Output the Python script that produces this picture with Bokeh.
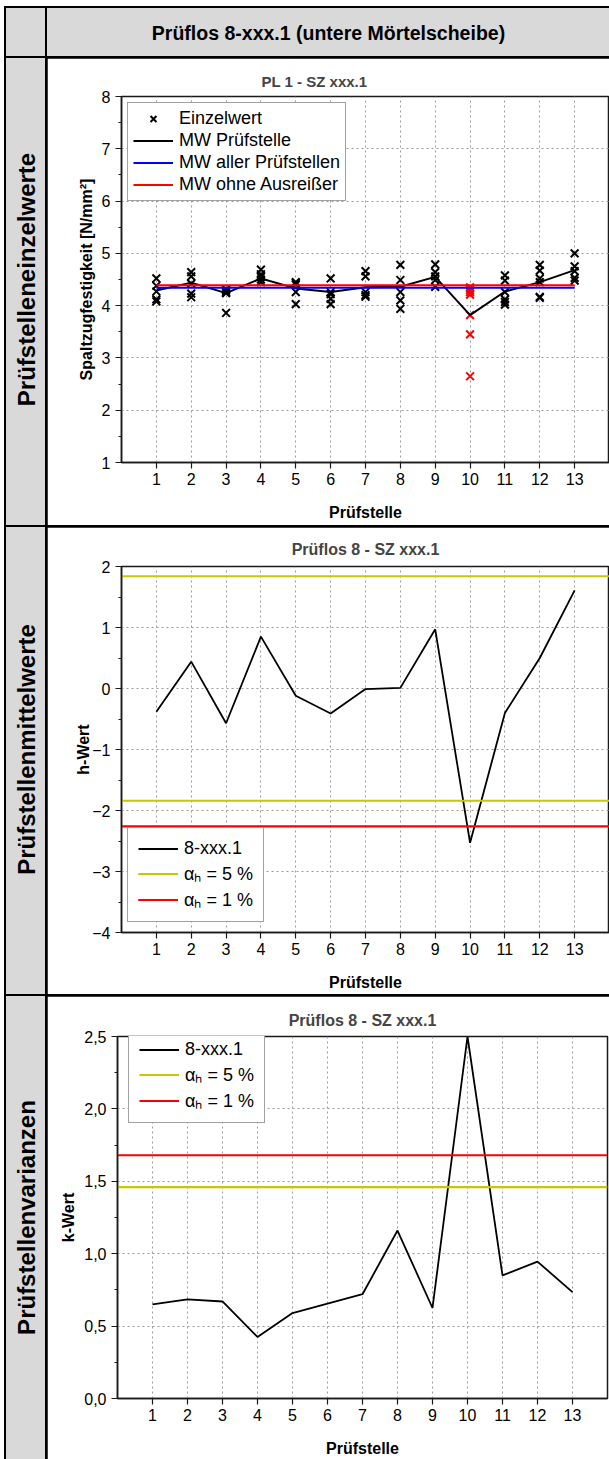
import math

from bokeh.embed import file_html
from bokeh.layouts import column, row
from bokeh.models import (ColumnDataSource, CustomJSTickFormatter, FixedTicker, Label,
                          Legend, LegendItem, Range1d)
from bokeh.plotting import figure
from bokeh.resources import INLINE

# ---------------------------------------------------------------- data
pruefstellen = list(range(1, 14))

# Einzelwerte der Spaltzugfestigkeit je Prüfstelle [N/mm²]
einzelwerte = [
    [4.52, 4.38, 4.27, 4.12, 4.08],
    [4.64, 4.56, 4.42, 4.23, 4.16],
    [4.31, 4.29, 4.26, 4.24, 3.86],
    [4.69, 4.60, 4.55, 4.50, 4.45],
    [4.45, 4.43, 4.40, 4.26, 4.03],
    [4.52, 4.26, 4.22, 4.13, 4.03],
    [4.66, 4.56, 4.26, 4.20, 4.17],
    [4.78, 4.49, 4.26, 4.10, 3.94],
    [4.79, 4.64, 4.56, 4.49, 4.36],
    [4.35, 4.30, 4.26, 4.21, 3.82, 3.45, 2.65],
    [4.58, 4.48, 4.26, 4.12, 4.07, 4.02],
    [4.78, 4.67, 4.52, 4.45, 4.17, 4.15],
    [5.00, 4.75, 4.66, 4.53, 4.48],
]
ausreisser_pruefstellen = [10]

mw_pruefstelle = [4.29, 4.44, 4.24, 4.52, 4.33, 4.26, 4.35, 4.36, 4.55, 3.82, 4.27, 4.45, 4.68]
mw_alle = 4.34
mw_ohne_ausreisser = 4.39

# Mandel-Statistiken
h_werte = [-0.38, 0.44, -0.57, 0.85, -0.12, -0.41, -0.01, 0.01, 0.97, -2.53, -0.40, 0.50, 1.61]
h_krit_5 = 1.84
h_krit_1 = 2.26

k_werte = [0.65, 0.685, 0.67, 0.425, 0.59, 0.655, 0.72, 1.16, 0.625, 2.50, 0.85, 0.945, 0.735]
k_krit_5 = 1.46
k_krit_1 = 1.68

# axis ticks
x_range_sz = (0, 14)
y_ticks_sz = [1, 2, 3, 4, 5, 6, 7, 8]
y_ticks_h = [-4, -3, -2, -1, 0, 1, 2]
y_ticks_k = [0.0, 0.5, 1.0, 1.5, 2.0, 2.5]

# ---------------------------------------------------------------- styling
FONT = "Liberation Sans"
CELL_GRAY = "#d9d9d9"
YELLOW = "#c8c800"
RED = "#ff0000"
BLUE = "#0000ff"
GRID = "#9a9a9a"

LEFT_W = 39
MAIN_W = 562
HEAD_H = 48
ROW_H = [467, 467, 463]


def minor_between(ticks):
    return [(a + b) / 2 for a, b in zip(ticks[:-1], ticks[1:])]


def cell(width, height, text, angle=0.0, size="18px"):
    c = figure(width=width, height=height, x_range=Range1d(0, 1), y_range=Range1d(0, 1),
               x_axis_location=None, y_axis_location=None,
               toolbar_location=None, output_backend="svg", min_border=0,
               background_fill_color=CELL_GRAY, border_fill_color=CELL_GRAY,
               outline_line_color=None, styles={"background-color": CELL_GRAY})
    c.grid.visible = False
    if text:
        c.add_layout(Label(x=0.5, y=0.5, text=text, angle=angle, angle_units="rad",
                           text_align="center", text_baseline="middle", text_font=FONT,
                           text_font_style="bold", text_font_size=size, text_color="black"))
    return c


def chart(title, height, y_rng, y_ticks, minor, left, top, bottom, right, ylabel,
          title_size="16px", title_standoff=12, ylabel_standoff=4):
    p = figure(width=MAIN_W, height=height,
               x_range=Range1d(*x_range_sz), y_range=Range1d(*y_rng),
               toolbar_location=None, output_backend="svg",
               min_border_left=left, min_border_right=right,
               min_border_top=top, min_border_bottom=bottom,
               background_fill_color="white", border_fill_color="white",
               outline_line_color="#1a1a1a", outline_line_width=1.5)
    p.title.text = title
    p.title.text_font = FONT
    p.title.text_font_size = title_size
    p.title.text_font_style = "bold"
    p.title.align = "center"
    p.title.standoff = title_standoff

    p.xaxis.ticker = FixedTicker(ticks=pruefstellen, minor_ticks=[])
    p.yaxis.ticker = FixedTicker(ticks=y_ticks, minor_ticks=minor)
    p.xaxis.axis_label = "Prüfstelle"
    p.yaxis.axis_label = ylabel
    for ax in (p.xaxis[0], p.yaxis[0]):
        ax.axis_line_color = "#1a1a1a"
        ax.axis_line_width = 1.5
        ax.major_tick_line_color = "#1a1a1a"
        ax.major_tick_line_width = 1.2
        ax.minor_tick_line_color = "#1a1a1a"
        ax.minor_tick_line_width = 1.2
        ax.major_tick_out = 6
        ax.major_tick_in = 0
        ax.minor_tick_out = 3
        ax.minor_tick_in = 0
        ax.major_label_text_font = FONT
        ax.major_label_text_font_size = "16px"
        ax.major_label_text_color = "black"
        ax.axis_label_text_font = FONT
        ax.axis_label_text_font_size = "16px"
        ax.axis_label_text_font_style = "bold"
        ax.axis_label_text_color = "black"
    p.xaxis.major_label_standoff = 4
    p.xaxis.axis_label_standoff = 16
    p.yaxis.major_label_standoff = 5
    p.yaxis.axis_label_standoff = ylabel_standoff

    for g in (p.xgrid[0], p.ygrid[0]):
        g.grid_line_color = GRID
        g.grid_line_dash = "2 3"
        g.grid_line_width = 1
    return p


def legend(p, items, location, padding, spacing):
    lg = Legend(items=items, location=location, padding=padding, spacing=spacing,
                margin=6, glyph_width=40, glyph_height=21, label_height=21,
                label_standoff=6, label_text_font=FONT, label_text_font_size="18px",
                label_text_color="black", border_line_color="#444444",
                border_line_width=1.2, background_fill_color="white",
                background_fill_alpha=1.0)
    p.add_layout(lg)
    return lg


# ---------------------------------------------------------------- chart 1: single values
xs, ys, cols = [], [], []
for stelle, werte in zip(pruefstellen, einzelwerte):
    for w in werte:
        xs.append(stelle)
        ys.append(w)
        cols.append(RED if stelle in ausreisser_pruefstellen else "black")
src_ew = ColumnDataSource(dict(x=xs, y=ys, color=cols))

p1 = chart("PL 1 - SZ xxx.1", ROW_H[0], (1, 8), y_ticks_sz, minor_between(y_ticks_sz),
           left=74, top=38, bottom=63, right=0, ylabel="Spaltzugfestigkeit [N/mm²]",
           title_size="15px", title_standoff=13)
p1.title.align = "left"
p1.title.offset = 140

r_ew = p1.scatter("x", "y", source=src_ew, marker="x", size=11, line_width=2, color="color")
r_mw = p1.line(pruefstellen, mw_pruefstelle, line_color="black", line_width=2)
r_all = p1.line(pruefstellen, [mw_alle] * len(pruefstellen), line_color=BLUE, line_width=2)
r_ohne = p1.line(pruefstellen, [mw_ohne_ausreisser] * len(pruefstellen), line_color=RED,
                 line_width=2)
legend(p1, [LegendItem(label="Einzelwert", renderers=[r_ew], index=0),
            LegendItem(label="MW Prüfstelle", renderers=[r_mw]),
            LegendItem(label="MW aller Prüfstellen", renderers=[r_all]),
            LegendItem(label="MW ohne Ausreißer", renderers=[r_ohne])],
       "top_left", padding=5, spacing=1)

# ---------------------------------------------------------------- chart 2: h-statistics
p2 = chart("Prüflos 8 - SZ xxx.1", ROW_H[1], (-4, 2), y_ticks_h, minor_between(y_ticks_h),
           left=74, top=39, bottom=62, right=0, ylabel="h-Wert", title_standoff=18,
           ylabel_standoff=-3)
x_full = list(x_range_sz)
r_h = p2.line(pruefstellen, h_werte, line_color="black", line_width=1.8)
r_h5 = [p2.line(x_full, [s * h_krit_5] * 2, line_color=YELLOW, line_width=2.2) for s in (1, -1)]
r_h1 = [p2.line(x_full, [s * h_krit_1] * 2, line_color=RED, line_width=2.2) for s in (1, -1)]
legend(p2, [LegendItem(label="8-xxx.1", renderers=[r_h]),
            LegendItem(label="αₕ = 5 %", renderers=r_h5),
            LegendItem(label="αₕ = 1 %", renderers=r_h1)],
       (6, 10), padding=10, spacing=2)

# ---------------------------------------------------------------- chart 3: k-statistics
p3 = chart("Prüflos 8 - SZ xxx.1", ROW_H[2], (0, 2.5), y_ticks_k, minor_between(y_ticks_k),
           left=70, top=40, bottom=58, right=2, ylabel="k-Wert", title_standoff=16)
p3.yaxis.formatter = CustomJSTickFormatter(code="return tick.toFixed(1).replace('.', ',');")
r_k = p3.line(pruefstellen, k_werte, line_color="black", line_width=1.8)
r_k5 = p3.line(x_full, [k_krit_5] * 2, line_color=YELLOW, line_width=2.2)
r_k1 = p3.line(x_full, [k_krit_1] * 2, line_color=RED, line_width=2.2)
legend(p3, [LegendItem(label="8-xxx.1", renderers=[r_k]),
            LegendItem(label="αₕ = 5 %", renderers=[r_k5]),
            LegendItem(label="αₕ = 1 %", renderers=[r_k1])],
       (11, 275), padding=10, spacing=2)

# ---------------------------------------------------------------- table frame
head = row(cell(LEFT_W, HEAD_H, ""),
           cell(MAIN_W, HEAD_H, "Prüflos 8-xxx.1 (untere Mörtelscheibe)", size="19.5px"),
           spacing=2)
rows = []
for lbl, plot, h in zip(["Prüfstelleneinzelwerte", "Prüfstellenmittelwerte",
                         "Prüfstellenvarianzen"], [p1, p2, p3], ROW_H):
    rows.append(row(cell(LEFT_W, h, lbl, angle=math.pi / 2, size="24px"), plot, spacing=2))

page = column(head, *rows, spacing=2, margin=(6, 0, 0, 4),
              styles={"background-color": "black", "padding": "2px 0px 0px 2px"})

open("out.html", "w").write(file_html(page, INLINE))
